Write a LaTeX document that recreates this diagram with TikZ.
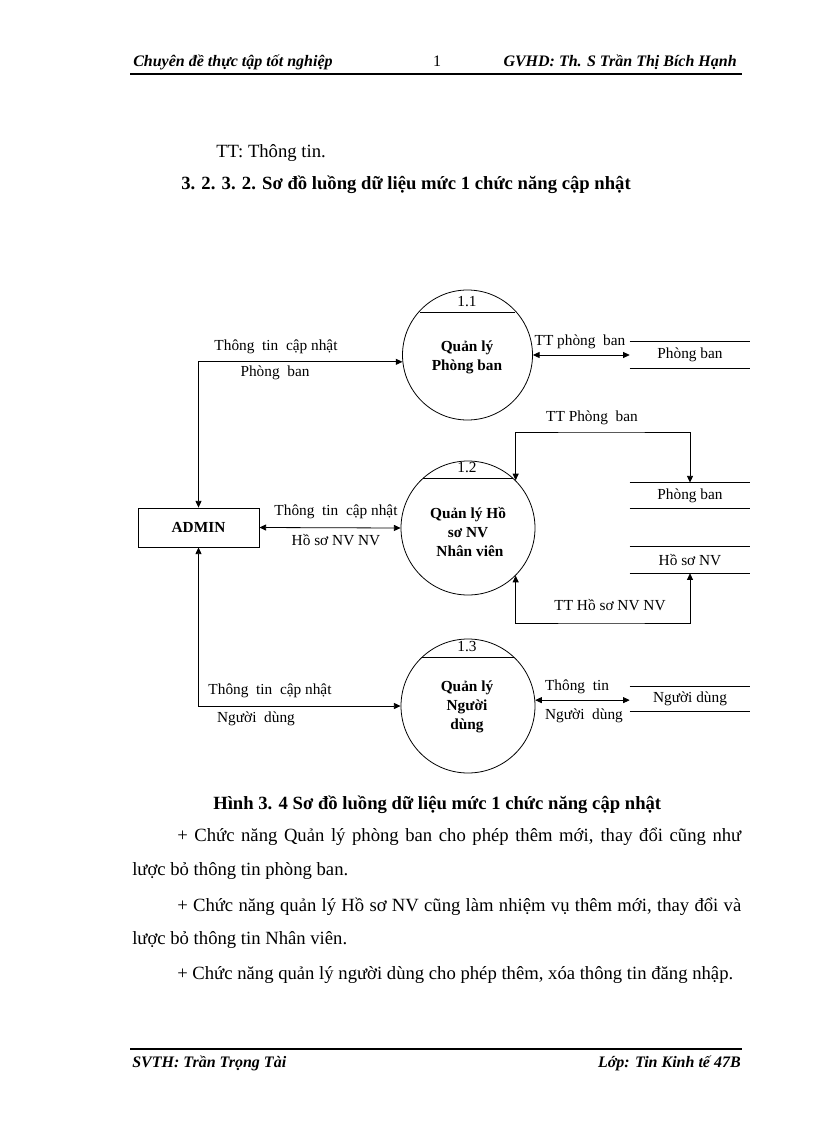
\documentclass[tikz,border=0pt]{standalone}
\usepackage{fontspec}
\setmainfont{Liberation Serif}
\usetikzlibrary{arrows.meta,calc}
\tikzset{
  tip/.tip={Triangle[length=5pt,width=4.5pt]},
  proc/.style={circle,draw,line width=0.6pt,inner sep=0pt,minimum size=#1},
  ptxt/.style={font=\fontsize{11.5}{14.25}\selectfont\bfseries,align=center,inner sep=0pt},
  lbl/.style={font=\fontsize{11.5}{13}\selectfont,inner sep=0pt},
  flow/.style={line width=0.6pt,tip-tip},
  stline/.style={line width=0.6pt},
  store/.style={inner sep=0pt,minimum width=90pt,minimum height=#1,font=\fontsize{11.5}{13}\selectfont},
  hdr/.style={font=\fontsize{12}{14}\selectfont\bfseries\itshape,inner sep=0pt,anchor=base west},
  body/.style={font=\fontsize{14}{16}\selectfont,inner sep=0pt,anchor=base west},
  bodyb/.style={font=\fontsize{14}{16}\selectfont\bfseries,inner sep=0pt,anchor=base west},
  extbox/.style={draw,line width=0.6pt,minimum width=90.75pt,minimum height=29.25pt,inner sep=0pt,font=\fontsize{11.5}{13}\selectfont\bfseries}
}
\begin{document}
\begin{tikzpicture}[x=0.75pt,y=-0.75pt]
\useasboundingbox (0,0) rectangle (816,1123);
\fill[white] (0,0) rectangle (816,1123);

% header
\node[hdr] (hl) at (133,67) {Chuyên đề thực tập tốt nghiệp};
\node[font=\fontsize{12}{14}\selectfont,inner sep=0pt,anchor=base] (hn) at (437,67) {1};
\node[hdr,anchor=base east] (hr) at (737,67) {GVHD: Th. S Trần Thị Bích Hạnh};
\draw[line width=1.5pt] (130,74) -- (742,74);

% intro
\node[body] (tt) at (216,158) {TT: Thông tin.};
\node[bodyb] (hd) at (181,190) {3. 2. 3. 2. Sơ đồ luồng dữ liệu mức 1 chức năng cập nhật};

% processes
\node[proc=97.5pt] (c1) at (467.5,355) {};
\node[proc=100.5pt] (c2) at (468,528) {};
\node[proc=100.5pt] (c3) at (468,706) {};
\draw[line width=0.6pt] (420,312) -- (515,312);
\draw[line width=0.6pt] (423.4,478) -- (512.6,478);
\draw[line width=0.6pt] (422.3,657) -- (513.7,657);
\node[lbl] (n1) at (467,302) {1.1};
\node[lbl] (n2) at (467,468) {1.2};
\node[lbl] (n3) at (467,647) {1.3};
\node[ptxt] (t1) at (467,357) {Quản lý\\Phòng ban};
\node[ptxt] (t2) at (468,532) {Quản lý Hồ\\sơ NV\\\ Nhân viên};
\node[ptxt] (t3) at (467,707) {Quản lý\\Người\\dùng};

% external entity
\node[extbox] (ad) at (198.5,527.5) {ADMIN};

% data stores
\node[store=19.5pt] (s1) at (690,355) {Phòng ban};
\node[store=19pt] (s2) at (690,495.5) {Phòng ban};
\node[store=19.5pt] (s3) at (690,560) {Hồ sơ NV};
\node[store=18pt] (s4) at (690,699) {Người dùng};
\foreach \s in {s1,s2,s3,s4}{
  \draw[stline] (\s.north west) -- (\s.north east);
  \draw[stline] (\s.south west) -- (\s.south east);
}

% flows
\draw[flow] (ad.north) |- (c1.186);
\draw[flow] (ad.east) -- (c2.west);
\draw[flow] (ad.south) |- (c3.west);
\draw[flow] (c1.east) -- (s1.west);
\draw[flow] (c3.5) -- (c3.5 -| s4.west);
\coordinate (k1) at (600,432);
\coordinate (k2) at (600,623);
\draw[flow] (c2.45) |- (k1) -| (s2.north);
\draw[flow] (c2.-45) |- (k2) -| (s3.south);

% flow labels
\node[lbl] (l1a) at (276,347) {Thông\ \ tin\ \ cập nhật};
\node[lbl] (l1b) at (275,373) {Phòng\ \ ban};
\node[lbl] (l2a) at (336,512) {Thông\ \ tin\ \ cập nhật};
\node[lbl] (l2b) at (336,540) {Hồ sơ NV NV};
\node[lbl] (l3a) at (270,691) {Thông\ \ tin\ \ cập nhật};
\node[lbl] (l3b) at (256,719) {Người\ \ dùng};
\node[lbl] (l4) at (580,342) {TT phòng\ \ ban};
\node[lbl] (l5) at (592,418) {TT Phòng\ \ ban};
\node[lbl] (l6) at (610,605) {TT Hồ sơ NV NV};
\node[lbl] (l7a) at (577,687) {Thông\ \ tin};
\node[lbl] (l7b) at (584,716) {Người\ \ dùng};

% caption and text
\node[bodyb] (cap) at (213,809) {Hình 3. 4 Sơ đồ luồng dữ liệu mức 1 chức năng cập nhật};
\node[body] (p1) at (177,841) {\makebox[423pt][s]{+ Chức năng Quản lý phòng ban cho phép thêm mới, thay đổi cũng như}};
\node[body] (p2) at (132,875) {lược bỏ thông tin phòng ban.};
\node[body] (p3) at (177,911) {\makebox[423pt][s]{+ Chức năng quản lý Hồ sơ NV cũng làm nhiệm vụ thêm mới, thay đổi và}};
\node[body] (p4) at (132,944) {lược bỏ thông tin Nhân viên.};
\node[body] (p5) at (177,979) {+ Chức năng quản lý người dùng cho phép thêm, xóa thông tin đăng nhập.};

% footer
\draw[line width=1.5pt] (130,1049) -- (742,1049);
\node[hdr] (fl) at (132,1067) {SVTH: Trần Trọng Tài};
\node[hdr,anchor=base east] (fr) at (741,1067) {Lớp: Tin Kinh tế 47B};
\end{tikzpicture}
\end{document}
